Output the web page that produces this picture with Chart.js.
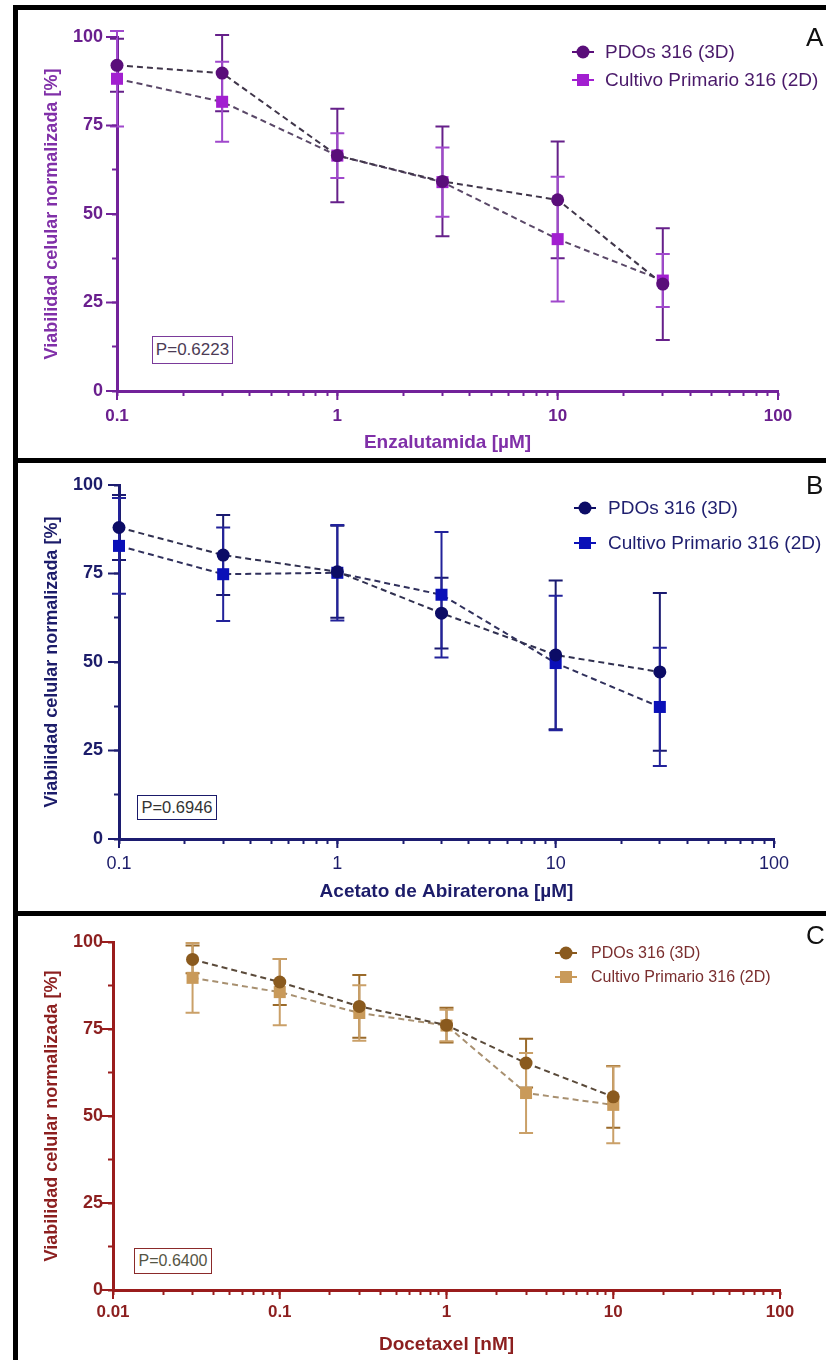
<!DOCTYPE html>
<html>
<head>
<meta charset="utf-8">
<script src="https://cdn.jsdelivr.net/npm/chart.js@4.4.1/dist/chart.umd.min.js"></script>
<style>
  body { margin: 0; background: #fff; width: 826px; height: 1360px; overflow: hidden; position: relative;
         font-family: "Liberation Sans", Arial, sans-serif; }
  .panel { position: absolute; left: 13px; width: 1000px; border: 5px solid #000; box-sizing: border-box; }
  canvas { position: absolute; left: 0; z-index: 2; }
  .pbox { position: absolute; border: 1.5px solid; box-sizing: border-box; text-align: center; z-index: 3; background: #fff; }
  .tag { position: absolute; left: 806px; font-size: 26px; line-height: 1; color: #111; z-index: 3; }
</style>
</head>
<body>
<div class="panel" style="top:5px;height:458px"></div>
<div class="panel" style="top:458px;height:458px"></div>
<div class="panel" style="top:911px;height:460px"></div>

<canvas id="chartA" width="826" height="457" style="top:0"></canvas>
<canvas id="chartB" width="826" height="450" style="top:460px"></canvas>
<canvas id="chartC" width="826" height="448" style="top:912px"></canvas>

<div class="tag" style="top:24px">A</div>
<div class="tag" style="top:472px">B</div>
<div class="tag" style="top:922px">C</div>

<div class="pbox" id="pA" style="left:152px;top:336px;width:81px;height:28px;line-height:25px;font-size:17px;color:#4b3b55;border-color:#7a3a9a"></div>
<div class="pbox" id="pB" style="left:137px;top:795px;width:80px;height:25px;line-height:22px;font-size:16.5px;color:#333;border-color:#1a1a6a"></div>
<div class="pbox" id="pC" style="left:134px;top:1248px;width:78px;height:26px;line-height:23px;font-size:16px;color:#554;border-color:#8b2a2a"></div>

<script>
// ---- data ----
const seriesNames = ['PDOs 316 (3D)', 'Cultivo Primario 316 (2D)'];
const yTitle = 'Viabilidad celular normalizada [%]';
const yTickLabels = ['0', '25', '50', '75', '100'];

// A: Enzalutamida
const dosesEnz = [0.1, 0.3, 1, 3, 10, 30];
const pdoEnz = [92, 89.8, 66.5, 59.2, 54, 30.2];
const pdoEnzErr = [7.5, 10.8, 13.2, 15.5, 16.5, 15.8];
const primEnz = [88.2, 81.7, 66.5, 59, 42.9, 31.2];
const primEnzErr = [13.5, 11.3, 6.3, 9.8, 17.6, 7.5];
const xTicksEnz = ['0.1', '1', '10', '100'];

// B: Acetato de Abiraterona
const dosesAbi = [0.1, 0.3, 1, 3, 10, 30];
const pdoAbi = [88, 80.2, 75.5, 63.8, 52, 47.2];
const pdoAbiErr = [9.2, 11.3, 13, 10, 21, 22.3];
const primAbi = [82.8, 74.8, 75.2, 69, 49.7, 37.3];
const primAbiErr = [13.5, 13.2, 13.5, 17.7, 19, 16.7];
const xTicksAbi = ['0.1', '1', '10', '100'];

// C: Docetaxel
const dosesDoc = [0.03, 0.1, 0.3, 1, 3, 10];
const pdoDoc = [95, 88.5, 81.5, 76.1, 65.2, 55.5];
const pdoDocErr = [4, 6.6, 9, 5, 7, 8.9];
const primDoc = [89.7, 85.6, 79.6, 76, 56.6, 53.2];
const primDocErr = [10, 9.5, 8, 4.5, 11.5, 11];
const xTicksDoc = ['0.01', '0.1', '1', '10', '100'];

const pValues = ['P=0.6223', 'P=0.6946', 'P=0.6400'];
const xTitles = ['Enzalutamida [\u00b5M]', 'Acetato de Abiraterona [\u00b5M]', 'Docetaxel [nM]'];

Chart.defaults.font.family = '"Liberation Sans", Arial, sans-serif';

// vertical SD bars with caps, drawn under the points
const errorBars = {
  id: 'errorBars',
  beforeDatasetsDraw(chart, args, opts) {
    const {ctx, scales: {x, y}} = chart;
    ctx.save();
    ctx.lineWidth = opts.width;
    chart.data.datasets.forEach(ds => {
      ctx.strokeStyle = ds.errorColor;
      ds.data.forEach((p, j) => {
        const e = ds.errors[j];
        const px = x.getPixelForValue(p.x);
        const top = y.getPixelForValue(p.y + e);
        const bot = y.getPixelForValue(p.y - e);
        ctx.beginPath();
        ctx.moveTo(px, top); ctx.lineTo(px, bot);
        ctx.moveTo(px - opts.cap, top); ctx.lineTo(px + opts.cap, top);
        ctx.moveTo(px - opts.cap, bot); ctx.lineTo(px + opts.cap, bot);
        ctx.stroke();
      });
    });
    ctx.restore();
  }
};

// legend in the upper right, marker with short line stubs
const sideLegend = {
  id: 'sideLegend',
  afterDraw(chart, args, opts) {
    const ctx = chart.ctx;
    ctx.save();
    ctx.font = opts.size + 'px "Liberation Sans", Arial, sans-serif';
    ctx.textBaseline = 'middle';
    chart.data.datasets.forEach((ds, i) => {
      const cy = opts.y + i * opts.gap;
      const c = ds.pointBackgroundColor;
      ctx.strokeStyle = c;
      ctx.lineWidth = 2;
      ctx.beginPath();
      ctx.moveTo(opts.x - 11, cy); ctx.lineTo(opts.x + 11, cy);
      ctx.stroke();
      ctx.fillStyle = c;
      ctx.beginPath();
      if (ds.pointStyle === 'rect') {
        const s = ds.pointRadius * Math.SQRT1_2;
        ctx.rect(opts.x - s, cy - s, 2 * s, 2 * s);
      } else {
        ctx.arc(opts.x, cy, ds.pointRadius, 0, Math.PI * 2);
      }
      ctx.fill();
      ctx.fillStyle = opts.color;
      ctx.fillText(ds.label, opts.x + opts.textGap, cy + 1);
    });
    ctx.restore();
  }
};

// longer tick marks at the labelled values
const majorTicks = {
  id: 'majorTicks',
  afterDraw(chart, args, opts) {
    const {ctx, scales: {x, y}} = chart;
    ctx.save();
    ctx.strokeStyle = opts.color;
    ctx.lineWidth = 2;
    x.ticks.forEach(t => {
      if (!t.label) return;
      const px = x.getPixelForValue(t.value);
      ctx.beginPath(); ctx.moveTo(px, x.top); ctx.lineTo(px, x.top + opts.xLen); ctx.stroke();
    });
    y.ticks.forEach(t => {
      if (!t.label) return;
      const py = y.getPixelForValue(t.value);
      ctx.beginPath(); ctx.moveTo(y.right, py); ctx.lineTo(y.right - opts.yLen, py); ctx.stroke();
    });
    ctx.restore();
  }
};

function logTicks(min, max) {
  const out = [];
  for (let e = Math.round(Math.log10(min)); e < Math.round(Math.log10(max)); e++) {
    for (let k = 1; k <= 9; k++) out.push({value: Number((k * Math.pow(10, e)).toPrecision(6))});
  }
  out.push({value: max});
  return out;
}

function makeChart(id, c) {
  const pts = (xs, ys) => xs.map((d, i) => ({x: d, y: ys[i]}));
  new Chart(document.getElementById(id), {
    type: 'line',
    data: {
      datasets: [
        {
          label: seriesNames[0], data: pts(c.doses, c.pdo), errors: c.pdoErr, errorColor: c.err1,
          borderColor: c.line1, borderWidth: 2, borderDash: [6, 4], pointStyle: 'circle', pointRadius: 6.5,
          pointBackgroundColor: c.col1, pointBorderColor: c.col1, pointBorderWidth: 0, order: 0, clip: false
        },
        {
          label: seriesNames[1], data: pts(c.doses, c.prim), errors: c.primErr, errorColor: c.err2,
          borderColor: c.line2, borderWidth: 2, borderDash: [6, 4], pointStyle: 'rect', pointRadius: 8.5,
          pointBackgroundColor: c.col2, pointBorderColor: c.col2, pointBorderWidth: 0, order: 1, clip: false
        }
      ]
    },
    options: {
      responsive: false,
      animation: false,
      layout: {padding: {left: 0, top: c.padTop, right: c.padRight, bottom: 0}},
      plugins: {
        legend: {display: false},
        tooltip: {enabled: false},
        errorBars: {width: 2, cap: 7},
        sideLegend: c.legend,
        majorTicks: {color: c.axis, xLen: 9, yLen: 11}
      },
      scales: {
        x: {
          type: 'logarithmic', min: c.xMin, max: 100,
          afterBuildTicks: s => { s.ticks = logTicks(c.xMin, 100); },
          afterFit: s => { s.height = c.xAxisH; },
          border: {color: c.axis, width: 3},
          grid: {drawOnChartArea: false, tickLength: 5, tickWidth: 2, tickColor: c.axis},
          ticks: {
            autoSkip: false, maxRotation: 0, padding: c.xPad, color: c.text,
            font: {size: c.xTickSize, weight: c.xTickWeight},
            callback: v => c.xLabels.find(l => Math.abs(parseFloat(l) - v) < 1e-9) || ''
          },
          title: {display: true, text: c.xTitle, color: c.title, font: {size: 19, weight: 'bold'},
                  padding: {top: 0, bottom: c.xTitlePad}}
        },
        y: {
          min: 0, max: 100,
          afterFit: s => { s.width = c.yAxisW; },
          border: {color: c.axis, width: 3},
          grid: {drawOnChartArea: false, tickLength: 5, tickWidth: 2, tickColor: c.axis},
          ticks: {
            stepSize: 6.25, padding: c.yPad, color: c.text, font: {size: 18, weight: 'bold'},
            callback: v => yTickLabels.find(l => Math.abs(parseFloat(l) - v) < 1e-9) || ''
          },
          title: {display: true, text: yTitle, color: c.title, font: {size: 18, weight: 'bold'},
                  padding: {top: 41, bottom: 0}}
        }
      }
    },
    plugins: [errorBars, majorTicks, sideLegend]
  });
}

makeChart('chartA', {
  doses: dosesEnz, pdo: pdoEnz, pdoErr: pdoEnzErr, prim: primEnz, primErr: primEnzErr,
  xMin: 0.1, xLabels: xTicksEnz, xTitle: xTitles[0],
  padTop: 37, padRight: 48, yAxisW: 117, xAxisH: 66, xPad: 10, yPad: 9, xTitlePad: 2.6,
  xTickSize: 17, xTickWeight: 'bold',
  axis: '#72229a', text: '#6a1f8e', title: '#8030a8',
  col1: '#5a0e7a', col2: '#a21fd0', err1: '#66208a', err2: '#a048cc', line1: '#40364a', line2: '#5a4868',
  legend: {x: 583, y: 52, gap: 28, textGap: 22, size: 19, color: '#4a1a6a'}
});

makeChart('chartB', {
  doses: dosesAbi, pdo: pdoAbi, pdoErr: pdoAbiErr, prim: primAbi, primErr: primAbiErr,
  xMin: 0.1, xLabels: xTicksAbi, xTitle: xTitles[1],
  padTop: 25, padRight: 52, yAxisW: 119, xAxisH: 71, xPad: 9, yPad: 11, xTitlePad: 6.6,
  xTickSize: 18, xTickWeight: 'normal',
  axis: '#1c1c70', text: '#1c1c6a', title: '#1c1c6a',
  col1: '#0c0c66', col2: '#0a10b8', err1: '#1a1a70', err2: '#22229a', line1: '#303050', line2: '#30305c',
  legend: {x: 585, y: 48, gap: 35, textGap: 23, size: 19, color: '#1f1f6f'}
});

makeChart('chartC', {
  doses: dosesDoc, pdo: pdoDoc, pdoErr: pdoDocErr, prim: primDoc, primErr: primDocErr,
  xMin: 0.01, xLabels: xTicksDoc, xTitle: xTitles[2],
  padTop: 30, padRight: 46, yAxisW: 113, xAxisH: 70, xPad: 7, yPad: 5, xTitlePad: 3.6,
  xTickSize: 17, xTickWeight: 'bold',
  axis: '#9a1c1c', text: '#8c1f1f', title: '#8c1f1f',
  col1: '#8a5a1e', col2: '#c99a5a', err1: '#9a6a2a', err2: '#caa068', line1: '#5a4a3a', line2: '#a89070',
  legend: {x: 566, y: 41, gap: 24, textGap: 25, size: 16, color: '#7a2e2e'}
});

document.getElementById('pA').textContent = pValues[0];
document.getElementById('pB').textContent = pValues[1];
document.getElementById('pC').textContent = pValues[2];
</script>
</body>
</html>
